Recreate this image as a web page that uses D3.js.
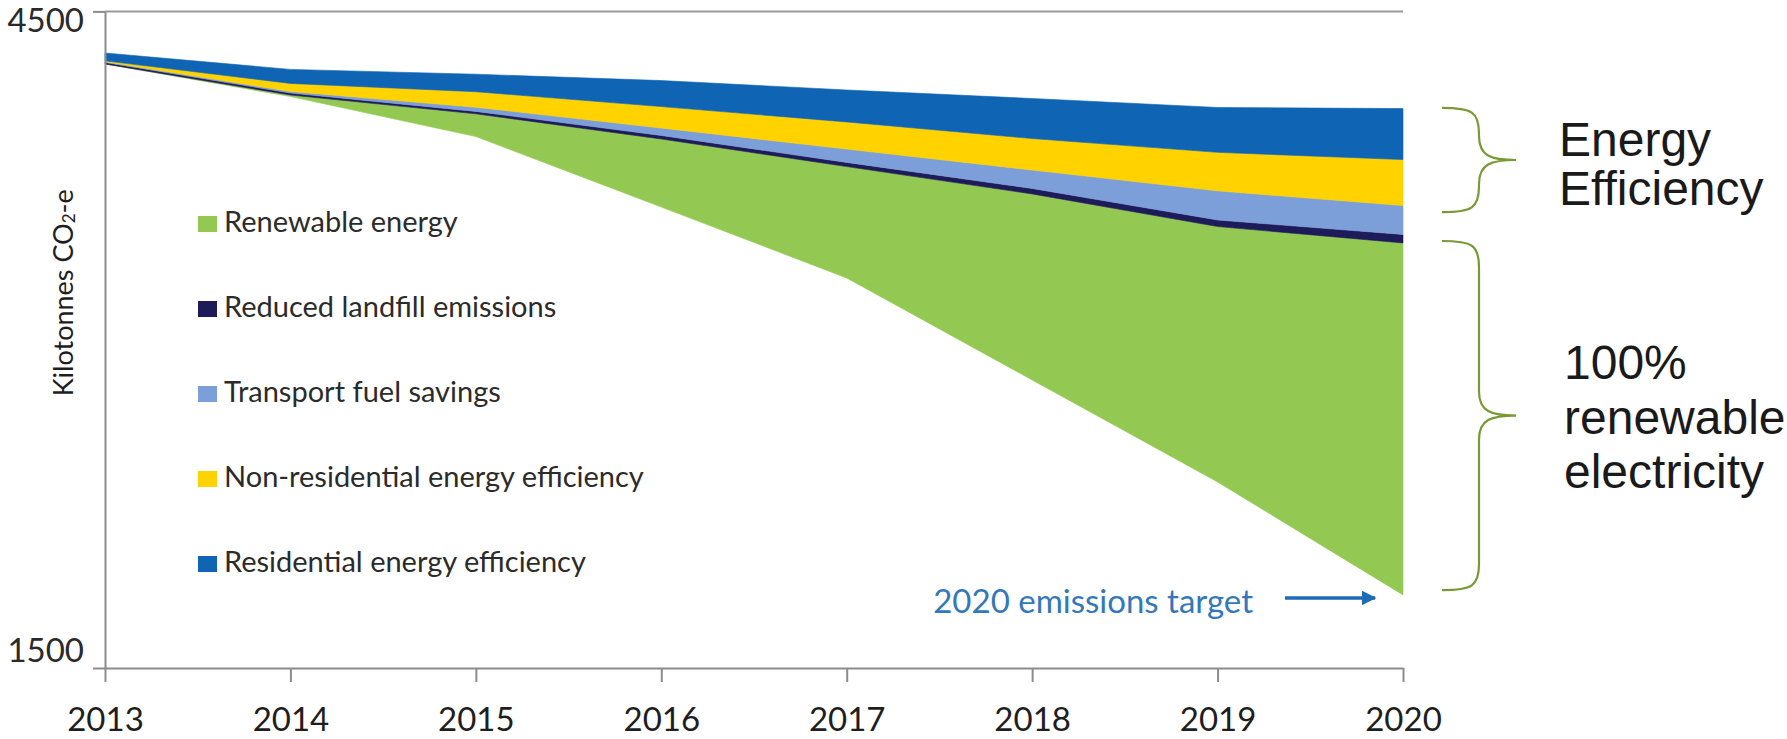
<!DOCTYPE html>
<html>
<head>
<meta charset="utf-8">
<script src="https://cdn.jsdelivr.net/npm/d3@7"></script>
<style>
html,body{margin:0;padding:0;background:#fff;}
svg{display:block;}
</style>
</head>
<body>
<svg id="chart" width="1787" height="739"></svg>
<script>
// ---------------- data (kilotonnes CO2-e) ----------------
const years = [2013, 2014, 2015, 2016, 2017, 2018, 2019, 2020];
// remaining emissions (invisible base of the stack)
const remainingEmissions = [4260, 4111, 3928, 3606, 3282, 2816, 2350, 1834];
const renewableEnergy    = [0, 7, 104, 311, 509, 850, 1167, 1608];
const reducedLandfill    = [7, 9, 11, 16, 19, 25, 30, 39];
const transportFuel      = [3, 7, 19, 34, 61, 84, 133, 132];
const nonResidentialEE   = [4, 37, 71, 98, 124, 144, 176, 210];
const residentialEE      = [36, 64, 80, 119, 146, 183, 205, 233];
const seriesNames = ["Renewable energy", "Reduced landfill emissions", "Transport fuel savings",
                     "Non-residential energy efficiency", "Residential energy efficiency"];
const yTickValues = [1500, 4500];
const yTitle = ["Kilotonnes CO", "2", "-e"];
const targetLabel = "2020 emissions target";
// annotation braces (value ranges they cover) and their labels
const braceRanges = [[4059, 3583], [3451, 1856]];
const braceLabels = [["Energy", "Efficiency"], ["100%", "renewable", "electricity"]];

// ---------------- styles ----------------
const colors = ["#93c853", "#1e1b5a", "#7d9fd9", "#ffd200", "#0f64b4"];
const axisColor = "#8c8c8c";
const calibriLike = "Lato, 'Open Sans', sans-serif";

const svg = d3.select("#chart");
const x = d3.scaleLinear().domain([2013, 2020]).range([105, 1403]);
const y = d3.scaleLinear().domain([1500, 4500]).range([668, 11.4]);

// table for the stack
const keys = ["base", ...seriesNames];
const table = years.map((yr, i) => ({
  year: yr,
  base: remainingEmissions[i],
  [seriesNames[0]]: renewableEnergy[i],
  [seriesNames[1]]: reducedLandfill[i],
  [seriesNames[2]]: transportFuel[i],
  [seriesNames[3]]: nonResidentialEE[i],
  [seriesNames[4]]: residentialEE[i]
}));
const stacked = d3.stack().keys(keys)(table);

const area = d3.area()
  .x(d => x(d.data.year))
  .y0(d => y(d[0]))
  .y1(d => y(d[1]))
  .curve(d3.curveLinear);

// top gridline at 4500
svg.append("g").selectAll("line.grid")
  .data([4500]).join("line")
  .attr("x1", x(2013)).attr("x2", x(2020))
  .attr("y1", d => y(d)).attr("y2", d => y(d))
  .attr("stroke", "#9a9a9a").attr("stroke-width", 2);

// areas (skip invisible base)
svg.append("g").selectAll("path.layer")
  .data(stacked.slice(1)).join("path")
  .attr("class", "layer")
  .attr("d", area)
  .attr("fill", (d, i) => colors[i])
  .attr("stroke", (d, i) => colors[i])
  .attr("stroke-width", 0.6);

// x axis
const xAxis = svg.append("g")
  .attr("transform", `translate(0,${y(1500)})`)
  .call(d3.axisBottom(x).tickValues(years).tickFormat(d3.format("d"))
        .tickSize(14).tickSizeOuter(0).tickPadding(26));
xAxis.select(".domain").attr("stroke", axisColor).attr("stroke-width", 2);
xAxis.selectAll(".tick line").attr("stroke", axisColor).attr("stroke-width", 2);
xAxis.selectAll(".tick text")
  .attr("font-family", calibriLike).attr("font-size", 33).attr("fill", "#1e1e1e");

// y axis
const yAxis = svg.append("g")
  .attr("transform", `translate(${x(2013)},0)`)
  .call(d3.axisLeft(y).tickValues(yTickValues).tickFormat(d3.format("d"))
        .tickSize(12).tickSizeOuter(0).tickPadding(9));
yAxis.select(".domain").attr("stroke", axisColor).attr("stroke-width", 2);
yAxis.selectAll(".tick line").attr("stroke", axisColor).attr("stroke-width", 2);
yAxis.selectAll(".tick text")
  .attr("font-family", calibriLike).attr("font-size", 33).attr("fill", "#2a2a2a")
  .attr("dy", d => d === 4500 ? "0.62em" : "-0.2em");

// y title
const yt = svg.append("text")
  .attr("transform", `translate(62,${(y(1500) + y(4500)) / 2 - 47}) rotate(-90)`)
  .attr("text-anchor", "middle")
  .attr("dominant-baseline", "central")
  .attr("font-family", calibriLike).attr("font-size", 27).attr("fill", "#1e1e1e");
yt.append("tspan").text(yTitle[0]);
yt.append("tspan").attr("font-size", 17).attr("dy", 6).text(yTitle[1]);
yt.append("tspan").attr("dy", -6).text(yTitle[2]);

// legend
const legend = svg.append("g").attr("transform", "translate(198,216)");
const li = legend.selectAll("g").data(seriesNames).join("g")
  .attr("transform", (d, i) => `translate(0,${i * 85})`);
li.append("rect").attr("width", 19).attr("height", 16).attr("fill", (d, i) => colors[i]);
li.append("text").attr("x", 26).attr("y", 15.5)
  .attr("font-family", calibriLike).attr("font-size", 29).attr("fill", "#2b2b2b")
  .text(d => d);

// target annotation
const tY = y(remainingEmissions[remainingEmissions.length - 1]);
svg.append("text")
  .attr("x", x(2020) - 150).attr("y", tY + 18)
  .attr("text-anchor", "end")
  .attr("font-family", calibriLike).attr("font-size", 33).attr("fill", "#3378b8")
  .text(targetLabel);
svg.append("defs").append("marker")
  .attr("id", "arrowhead").attr("viewBox", "0 0 10 10")
  .attr("refX", 9).attr("refY", 5)
  .attr("markerWidth", 4.2).attr("markerHeight", 4.2).attr("orient", "auto")
  .append("path").attr("d", "M0,0 L10,5 L0,10 z").attr("fill", "#1f6bb6");
svg.append("line")
  .attr("x1", x(2020) - 118).attr("x2", x(2020) - 28)
  .attr("y1", tY + 3).attr("y2", tY + 3)
  .attr("stroke", "#1f6bb6").attr("stroke-width", 3.5)
  .attr("marker-end", "url(#arrowhead)");

// braces
const x0 = x(2020) + 39, xs = x(2020) + 76, xp = x(2020) + 113;
function bracePath(t, b) {
  const m = (t + b) / 2;
  return `M${x0},${t} C${x0 + 30},${t} ${xs},${t + 4} ${xs},${t + 26}` +
         ` L${xs},${m - 24} C${xs},${m - 4} ${xs + 12},${m} ${xp},${m}` +
         ` C${xs + 12},${m} ${xs},${m + 4} ${xs},${m + 24}` +
         ` L${xs},${b - 26} C${xs},${b - 4} ${x0 + 30},${b} ${x0},${b}`;
}
svg.append("g").selectAll("path")
  .data(braceRanges).join("path")
  .attr("d", d => bracePath(y(d[0]), y(d[1])))
  .attr("fill", "none").attr("stroke", "#789a35").attr("stroke-width", 2.2);

// brace labels
const labelOffsets = [[-4, 45], [-37, 18, 72]];
const labelX = [x(2020) + 156, x(2020) + 161];
braceRanges.forEach((r, k) => {
  const m = (y(r[0]) + y(r[1])) / 2;
  braceLabels[k].forEach((t, j) => {
    svg.append("text")
      .attr("x", labelX[k]).attr("y", m + labelOffsets[k][j])
      .attr("font-family", "'Liberation Sans', Arial, sans-serif")
      .attr("font-size", 48).attr("fill", "#1a1a1a")
      .text(t);
  });
});
</script>
</body>
</html>
